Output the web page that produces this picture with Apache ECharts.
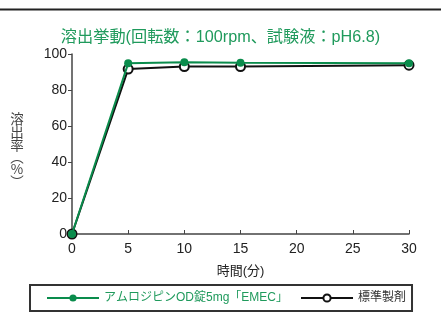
<!DOCTYPE html>
<html><head><meta charset="utf-8">
<script src="https://cdn.jsdelivr.net/npm/echarts@6/dist/echarts.min.js"></script>
<style>html,body{margin:0;padding:0;background:#fff}#c{width:441px;height:329px}</style>
</head><body><div id="c"></div>
<script>
const times = [0, 5, 10, 15, 30];
const testValues = [0, 94.8, 95.4, 95.1, 94.8];
const refValues = [0, 91.6, 93.0, 93.0, 93.8];
const seriesNames = ['アムロジピンOD錠5mg「EMEC」', '標準製剤'];
const titleText = '溶出挙動(回転数：100rpm、試験液：pH6.8)';
const xName = '時間(分)';
const yNameChars = ['溶','出','率','︵','%','︶'];

const FONT = '"Liberation Sans", "Noto Sans CJK JP", sans-serif';
const GREEN = '#0a8c4c';
const yNameOffsets = [0, 13, 26, 38, 50, 63];
const yNameGraphics = yNameChars.map((ch, i) => ({
  type: 'text', x: 17, y: 119 + yNameOffsets[i],
  style: { text: ch, fill: '#444', fontSize: 13.5, fontFamily: '"Noto Sans CJK JP", sans-serif', align: 'center', verticalAlign: 'middle' }
}));
const chart = echarts.init(document.getElementById('c'));
chart.setOption({
  animation: false,
  textStyle: { fontFamily: FONT },
  title: {
    text: titleText, left: 'center', top: 24,
    textStyle: { color: '#1f9a5c', fontSize: 16.2, fontWeight: 'normal', fontFamily: FONT }
  },
  graphic: [
    { type: 'line', shape: { x1: 0, y1: 9.5, x2: 441, y2: 9.5 }, style: { stroke: '#222', lineWidth: 2 } }
  ].concat(yNameGraphics),
  legend: {
    left: 30, top: 285,
    padding: [7, 6, 7, 16],
    borderColor: '#333', borderWidth: 2,
    itemWidth: 52, itemHeight: 9, itemGap: 12,
    textStyle: { fontSize: 12, color: '#333', fontFamily: FONT },
    data: [
      { name: seriesNames[0], textStyle: { color: '#1f9a5c' } },
      { name: seriesNames[1], textStyle: { color: '#333' } }
    ]
  },
  grid: { left: 72, right: 32, top: 54, bottom: 95 },
  xAxis: {
    type: 'value', min: 0, max: 30, interval: 5,
    name: xName, nameLocation: 'middle', nameGap: 31,
    nameTextStyle: { fontSize: 13, color: '#222', fontFamily: FONT },
    axisLine: { lineStyle: { color: '#444', width: 1.5 } },
    axisTick: { inside: true, length: 4, lineStyle: { color: '#444' } },
    axisLabel: { fontSize: 14, color: '#222', margin: 8 },
    splitLine: { show: false }
  },
  yAxis: {
    type: 'value', min: 0, max: 100, interval: 20,
    axisLine: { show: true, lineStyle: { color: '#444', width: 1.5 } },
    axisTick: { show: true, length: 4, lineStyle: { color: '#444' } },
    axisLabel: { fontSize: 14, color: '#222', margin: 5 },
    splitLine: { show: false }
  },
  series: [
    {
      name: seriesNames[1], type: 'line', z: 2,
      data: times.map((t, i) => [t, refValues[i]]),
      symbol: 'circle', symbolSize: 9,
      itemStyle: { color: '#fff', borderColor: '#111', borderWidth: 2 },
      lineStyle: { color: '#111', width: 2 }
    },
    {
      name: seriesNames[0], type: 'line', z: 3,
      data: times.map((t, i) => [t, testValues[i]]),
      symbol: 'circle', symbolSize: 8,
      itemStyle: { color: GREEN },
      lineStyle: { color: GREEN, width: 2 }
    }
  ]
});
</script></body></html>
